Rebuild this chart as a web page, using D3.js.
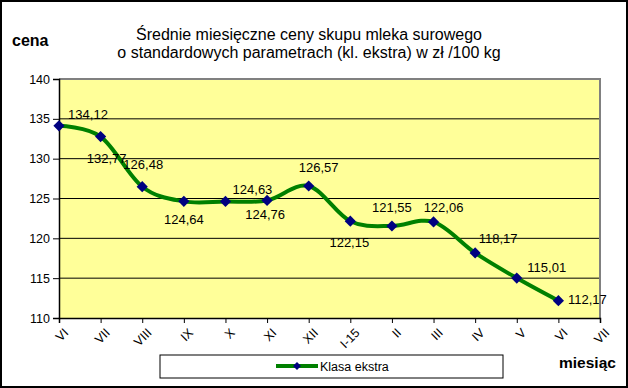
<!DOCTYPE html>
<html>
<head>
<meta charset="utf-8">
<script src="https://cdn.jsdelivr.net/npm/d3@7"></script>
<style>
  body { margin: 0; background: #fff; }
  text { font-family: "Liberation Sans", Arial, sans-serif; }
</style>
</head>
<body>
<div class="canvas"></div>
<script>
// months on the category axis (last one has no value)
const months = ['VI','VII','VIII','IX','X','XI','XII','I-15','II','III','IV','V','VI','VII']
// price per 100 kg, class "ekstra"
const prices = [134.12,132.77,126.48,124.64,124.63,124.76,126.57,122.15,121.55,122.06,118.17,115.01,112.17]
const priceLabels = ['134,12','132,77','126,48','124,64','124,63','124,76','126,57','122,15','121,55','122,06','118,17','115,01','112,17']
const yTicks = [110,115,120,125,130,135,140]

// where excel put each data label, relative to its point
const labelShift = [[29,-7],[6,26],[1,-18],[0,23],[27,-7],[-2,19],[10,-14],[-1,26],[0,-14],[10,-10],[23,-10],[30,-6],[29,3]]

const W = 628, H = 388
const pLeft = 59, pRight = 600, pTop = 79, pBottom = 318

const svg = d3.select('.canvas').append('svg')
    .attr('width', W)
    .attr('height', H)

// outer frame
svg.append('rect')
    .attr('x', 1).attr('y', 1)
    .attr('width', W - 2).attr('height', H - 2)
    .attr('fill', '#fff')
    .attr('stroke', '#000')
    .attr('stroke-width', 2)

const x = d3.scalePoint()
    .domain(d3.range(months.length))
    .range([pLeft, pRight])

const y = d3.scaleLinear()
    .domain([110, 140])
    .range([pBottom, pTop])

// plot area
svg.append('rect')
    .attr('x', pLeft).attr('y', pTop)
    .attr('width', pRight - pLeft).attr('height', pBottom - pTop)
    .attr('fill', '#ffff99')

// gridlines
svg.append('g')
    .selectAll('line')
    .data(yTicks.filter(d => d > 110 && d < 140))
    .join('line')
    .attr('x1', pLeft).attr('x2', pRight)
    .attr('y1', d => y(d)).attr('y2', d => y(d))
    .attr('stroke', '#000')
    .attr('stroke-width', 1)

// gray border on top and right
svg.append('path')
    .attr('d', `M${pLeft},${pTop}H${pRight}V${pBottom}`)
    .attr('fill', 'none')
    .attr('stroke', '#808080')
    .attr('stroke-width', 2)

// y axis
const yAxis = svg.append('g')
    .attr('transform', `translate(${pLeft},0)`)
    .call(d3.axisLeft(y).tickValues(yTicks).tickSize(6).tickPadding(3))
yAxis.select('.domain').attr('stroke', '#000').attr('stroke-width', 1.5)
yAxis.selectAll('text').style('font-size', '12.5px').attr('fill', '#000')

// x axis
const xAxis = svg.append('g')
    .attr('transform', `translate(0,${pBottom})`)
    .call(d3.axisBottom(x).tickSize(5).tickFormat(i => months[i]))
xAxis.select('.domain').attr('stroke', '#000').attr('stroke-width', 1.5)
xAxis.selectAll('text')
    .style('font-size', '12.5px')
    .attr('fill', '#000')
    .attr('text-anchor', 'end')
    .attr('dy', 0)
    .attr('transform', 'translate(4,10) rotate(-45)')

// smoothed line
const line = d3.line()
    .x((d, i) => x(i))
    .y(d => y(d))
    .curve(d3.curveCatmullRom.alpha(0))

svg.append('path')
    .datum(prices)
    .attr('d', line)
    .attr('fill', 'none')
    .attr('stroke', '#008000')
    .attr('stroke-width', 4)

const diamond = d3.symbol().type(d3.symbolDiamond2).size(80)

svg.append('g')
    .selectAll('path')
    .data(prices)
    .join('path')
    .attr('d', diamond)
    .attr('transform', (d, i) => `translate(${x(i)},${y(d)})`)
    .attr('fill', '#000080')

// data labels
svg.append('g')
    .selectAll('text')
    .data(prices)
    .join('text')
    .attr('x', (d, i) => x(i) + labelShift[i][0])
    .attr('y', (d, i) => y(d) + labelShift[i][1])
    .attr('text-anchor', 'middle')
    .style('font-size', '13px')
    .attr('fill', '#000')
    .text((d, i) => priceLabels[i])

// title
svg.append('text')
    .attr('x', 309).attr('y', 40)
    .attr('text-anchor', 'middle')
    .style('font-size', '16px')
    .text('Średnie miesięczne ceny skupu mleka surowego')
svg.append('text')
    .attr('x', 309).attr('y', 58)
    .attr('text-anchor', 'middle')
    .style('font-size', '16px')
    .text('o standardowych parametrach (kl. ekstra) w zł /100 kg')

// axis titles
svg.append('text')
    .attr('x', 12).attr('y', 46)
    .style('font-size', '16px')
    .style('font-weight', 'bold')
    .text('cena')
svg.append('text')
    .attr('x', 559).attr('y', 368)
    .style('font-size', '15.5px')
    .style('font-weight', 'bold')
    .text('miesiąc')

// legend
const legend = svg.append('g')
legend.append('rect')
    .attr('x', 160).attr('y', 355)
    .attr('width', 343).attr('height', 23)
    .attr('fill', '#fff')
    .attr('stroke', '#000')
    .attr('stroke-width', 1)
legend.append('line')
    .attr('x1', 276).attr('x2', 318)
    .attr('y1', 366).attr('y2', 366)
    .attr('stroke', '#008000')
    .attr('stroke-width', 4)
legend.append('path')
    .attr('d', d3.symbol().type(d3.symbolDiamond2).size(40))
    .attr('transform', 'translate(297,366)')
    .attr('fill', '#000080')
legend.append('text')
    .attr('x', 320).attr('y', 371)
    .style('font-size', '12.5px')
    .text('Klasa ekstra')
</script>
</body>
</html>
